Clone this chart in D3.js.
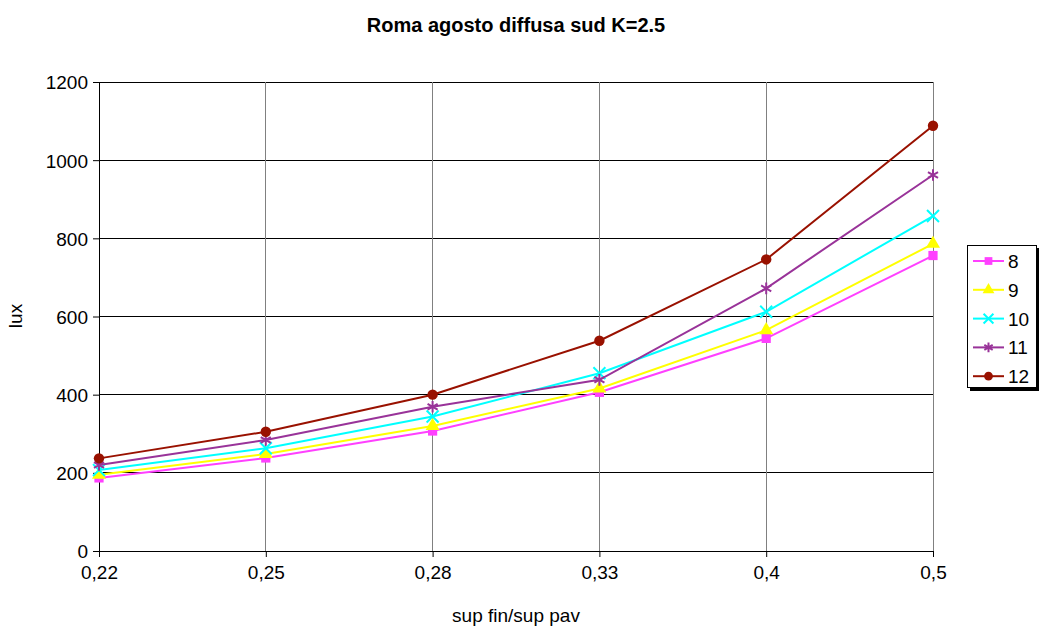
<!DOCTYPE html>
<html><head><meta charset="utf-8">
<script src="https://cdn.jsdelivr.net/npm/d3@7"></script>
<style>body{margin:0;background:#fff;} text{font-family:Arial,"Liberation Sans",sans-serif;fill:#000;}</style>
</head><body>
<svg id="c" width="1039" height="627"></svg>
<script>
const categories = ["0,22","0,25","0,28","0,33","0,4","0,5"];
const seriesNames = ["8","9","10","11","12"];
const s8  = [187, 238, 307, 406, 544, 756];
const s9  = [195, 248, 320, 416, 565, 786];
const s10 = [207, 263, 344, 455, 612, 857];
const s11 = [220, 284, 369, 438, 672, 962];
const s12 = [237, 305, 400, 538, 746, 1088];
const yTicks = [0,200,400,600,800,1000,1200];
const colors = ["#FF40FF","#FFFF00","#00FFFF","#993399","#991100"];
const symbols = ["square","triangle","x","star","circle"];
const values = [s8,s9,s10,s11,s12];

const FF = "Arial,'Liberation Sans',sans-serif";
const svg = d3.select("#c");
const L=99,R=933,T=82,B=551;
const x = d3.scalePoint().domain(categories).range([L,R]);
const y = d3.scaleLinear().domain([0,1200]).range([B,T]);

svg.append("text").attr("x",516).attr("y",32).attr("text-anchor","middle")
  .style("font-weight","bold").style("font-size","20px").text("Roma agosto diffusa sud K=2.5");

// horizontal gridlines
svg.append("g").selectAll("line").data(yTicks).join("line")
  .attr("x1",L).attr("x2",R).attr("y1",d=>y(d)).attr("y2",d=>y(d))
  .attr("stroke","#000").attr("stroke-width",1).attr("shape-rendering","crispEdges");
// vertical gridlines
svg.append("g").selectAll("line").data(categories).join("line")
  .attr("x1",d=>x(d)).attr("x2",d=>x(d)).attr("y1",T).attr("y2",B)
  .attr("stroke","#808080").attr("stroke-width",1).attr("shape-rendering","crispEdges");

const ya = d3.axisLeft(y).tickValues(yTicks).tickFormat(d3.format("d")).tickSize(6).tickPadding(5);
const gy = svg.append("g").attr("transform",`translate(${L},0)`).call(ya);
gy.attr("font-size",null).attr("font-family",null);
gy.selectAll("text").style("font-size","19px").style("font-family",FF).attr("dy","0.36em");
gy.select(".domain").attr("d",`M0.5,${T}V${B}`).attr("stroke","#000");
gy.selectAll("line").attr("stroke","#000");

const xa = d3.axisBottom(x).tickSize(6).tickPadding(9);
const gx = svg.append("g").attr("transform",`translate(0,${B})`).call(xa);
gx.attr("font-size",null).attr("font-family",null);
gx.selectAll("text").style("font-size","19px").style("font-family",FF);
gx.select(".domain").attr("d",`M${L},0.5H${R}`).attr("stroke","#000");
gx.selectAll("line").attr("stroke","#000");

svg.append("text").attr("x",516).attr("y",622).attr("text-anchor","middle").style("font-size","19px").text("sup fin/sup pav");
svg.append("text").attr("transform","translate(22,316) rotate(-90)").attr("text-anchor","middle").style("font-size","19px").text("lux");

const line = d3.line().x((d,i)=>x(categories[i])).y(d=>y(d));
function sym(name,size){
  const m={square:d3.symbolSquare,triangle:d3.symbolTriangle,x:d3.symbolTimes,star:d3.symbolAsterisk,circle:d3.symbolCircle};
  return d3.symbol().type(m[name]).size(size)();
}
values.forEach((vals,si)=>{
  const g=svg.append("g");
  g.append("path").attr("d",line(vals)).attr("fill","none").attr("stroke",colors[si]).attr("stroke-width",2);
  const filled = symbols[si]!=="x" && symbols[si]!=="star";
  g.selectAll("path.m").data(vals).join("path").attr("class","m")
    .attr("transform",(d,i)=>`translate(${x(categories[i])},${y(d)})`)
    .attr("d",sym(symbols[si], filled?85:95))
    .attr("fill",filled?colors[si]:"none").attr("stroke",colors[si]).attr("stroke-width",filled?0:2);
});

// legend
const lg = svg.append("g");
lg.append("rect").attr("x",970).attr("y",248).attr("width",70).attr("height",143).attr("fill","#000");
lg.append("rect").attr("x",967.5).attr("y",245.5).attr("width",69).attr("height",142).attr("fill","#fff").attr("stroke","#000");
seriesNames.forEach((n,i)=>{
  const yy = 261 + i*28.8;
  lg.append("line").attr("x1",973).attr("x2",1004).attr("y1",yy).attr("y2",yy).attr("stroke",colors[i]).attr("stroke-width",2);
  const filled = symbols[i]!=="x" && symbols[i]!=="star";
  lg.append("path").attr("transform",`translate(988.5,${yy})`).attr("d",sym(symbols[i],filled?60:65))
    .attr("fill",filled?colors[i]:"none").attr("stroke",colors[i]).attr("stroke-width",filled?0:2);
  lg.append("text").attr("x",1008).attr("y",yy+7).style("font-size","19px").text(n);
});
</script>
</body></html>
